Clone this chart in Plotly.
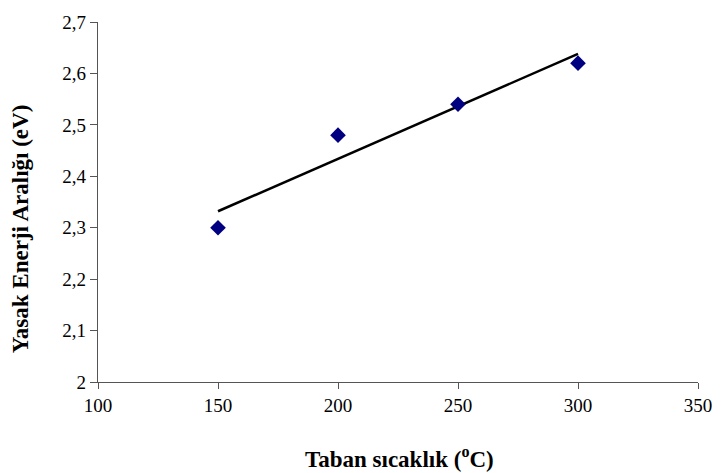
import numpy as np
import plotly.graph_objects as go

temps = [150, 200, 250, 300]
gaps = [2.30, 2.48, 2.54, 2.62]
y_ticks = [2.0, 2.1, 2.2, 2.3, 2.4, 2.5, 2.6, 2.7]
y_tick_labels = ["2", "2,1", "2,2", "2,3", "2,4", "2,5", "2,6", "2,7"]
x_ticks = [100, 150, 200, 250, 300, 350]

slope, intercept = np.polyfit(temps, gaps, 1)
trend_x = [temps[0], temps[-1]]
trend_y = [slope * x + intercept for x in trend_x]

font = "Liberation Serif"

fig = go.Figure()
fig.add_trace(go.Scatter(x=trend_x, y=trend_y, mode="lines",
                         line=dict(color="black", width=2.5), showlegend=False))
fig.add_trace(go.Scatter(x=temps, y=gaps, mode="markers",
                         marker=dict(symbol="diamond", size=12, color="#000080"),
                         showlegend=False))

fig.update_layout(
    width=724, height=473,
    margin=dict(l=98, r=21, t=17, b=91),
    plot_bgcolor="white", paper_bgcolor="white",
    font=dict(family=font, size=19, color="black"),
    xaxis=dict(range=[100, 350], tickvals=x_ticks, showgrid=False, zeroline=False,
               showline=True, linecolor="#555", linewidth=1.2,
               ticks="outside", ticklen=6, tickcolor="#555",
               tickfont=dict(family=font, size=19)),
    yaxis=dict(range=[2.0, 2.7], tickvals=y_ticks, ticktext=y_tick_labels,
               showgrid=False, zeroline=False,
               showline=True, linecolor="#555", linewidth=1.2,
               ticks="outside", ticklen=7, tickcolor="#555",
               tickfont=dict(family=font, size=19)),
    annotations=[
        dict(text="<b>Taban sıcaklık (<sup>o</sup>C)</b>", xref="paper", yref="paper",
             x=0.503, y=-0.21, xanchor="center", yanchor="middle", showarrow=False,
             font=dict(family=font, size=23)),
        dict(text="<b>Yasak Enerji Aralığı (eV)</b>", xref="paper", yref="paper",
             x=-0.128, y=0.425, xanchor="center", yanchor="middle", showarrow=False,
             textangle=-90, font=dict(family=font, size=23)),
    ],
)

fig.write_html("out.html")
